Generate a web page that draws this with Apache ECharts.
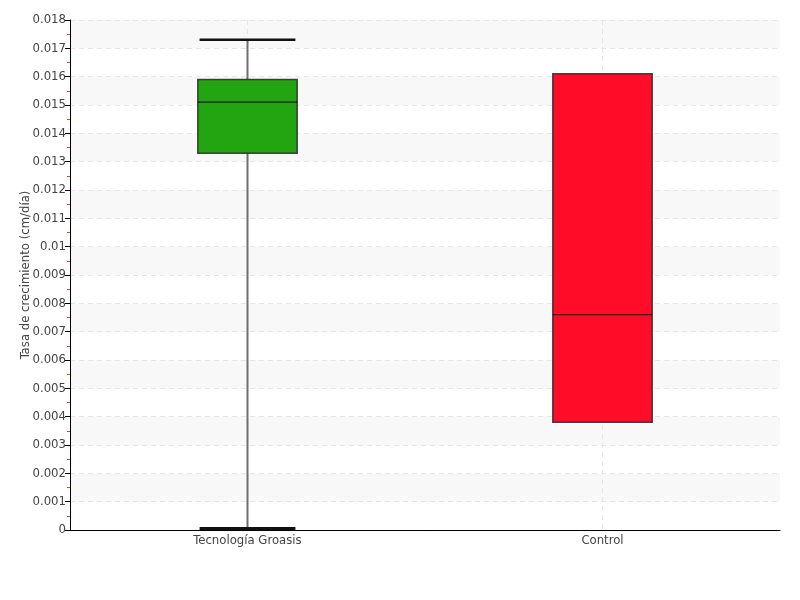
<!DOCTYPE html>
<html>
<head>
<meta charset="utf-8">
<script src="https://cdn.jsdelivr.net/npm/echarts@6/dist/echarts.min.js"></script>
<style>
  html, body { margin: 0; padding: 0; background: #fff; }
  #chart { width: 800px; height: 600px; }
</style>
</head>
<body>
<div id="chart"></div>
<script>
// categorias y valores del boxplot
const categories = ['Tecnología Groasis', 'Control']
const mins = [0.00005, 0.0038]
const q1s = [0.0133, 0.0038]
const medians = [0.0151, 0.0076]
const q3s = [0.0159, 0.0161]
const maxs = [0.0173, 0.0161]
const boxColors = ['#22a511', '#ff0c28']

const FONT = "'Liberation Sans Narrow', 'DejaVu Sans Condensed', sans-serif"

const boxData = categories.map((c, i) => [i, mins[i], q1s[i], medians[i], q3s[i], maxs[i]])

function renderBox(params, api) {
  const idx = api.value(0)
  const cs = params.coordSys
  const pMin = api.coord([idx, api.value(1)])
  const pQ1 = api.coord([idx, api.value(2)])
  const pMed = api.coord([idx, api.value(3)])
  const pQ3 = api.coord([idx, api.value(4)])
  const pMax = api.coord([idx, api.value(5)])
  const band = api.size([1, 0])[0]
  const half = band * 0.14
  const capHalf = band * 0.135
  const x = pMed[0]
  const children = [
    // linea guia vertical
    {
      type: 'line',
      shape: { x1: x, y1: cs.y, x2: x, y2: cs.y + cs.height },
      style: { stroke: '#e6e6e6', lineWidth: 1, lineDash: [5, 4] }
    }
  ]
  if (api.value(5) > api.value(4)) {
    children.push({
      type: 'line',
      shape: { x1: x, y1: pQ3[1], x2: x, y2: pMax[1] },
      style: { stroke: '#6e6e6e', lineWidth: 2 }
    })
    children.push({
      type: 'line',
      shape: { x1: x - capHalf, y1: pMax[1], x2: x + capHalf, y2: pMax[1] },
      style: { stroke: '#111', lineWidth: 2.5 }
    })
  }
  if (api.value(1) < api.value(2)) {
    children.push({
      type: 'line',
      shape: { x1: x, y1: pQ1[1], x2: x, y2: pMin[1] },
      style: { stroke: '#6e6e6e', lineWidth: 2 }
    })
    children.push({
      type: 'line',
      shape: { x1: x - capHalf, y1: pMin[1], x2: x + capHalf, y2: pMin[1] },
      style: { stroke: '#111', lineWidth: 3 }
    })
  }
  children.push({
    type: 'rect',
    shape: { x: x - half, y: pQ3[1], width: half * 2, height: pQ1[1] - pQ3[1] },
    style: { fill: boxColors[idx], stroke: 'rgba(40,40,40,0.85)', lineWidth: 1.5 }
  })
  children.push({
    type: 'line',
    shape: { x1: x - half, y1: pMed[1], x2: x + half, y2: pMed[1] },
    style: { stroke: '#1a1a1a', lineWidth: 1.2 }
  })
  return { type: 'group', children: children }
}

const chart = echarts.init(document.getElementById('chart'))
chart.setOption({
  animation: false,
  textStyle: { fontFamily: FONT },
  grid: { left: 70, right: 20, top: 20, bottom: 70 },
  xAxis: {
    type: 'category',
    data: categories,
    axisLine: { lineStyle: { color: '#000', width: 1 } },
    axisTick: { alignWithLabel: true, length: 4, lineStyle: { color: '#666' } },
    axisLabel: { color: '#444', fontSize: 13, fontFamily: FONT, margin: 4 },
    splitLine: { show: false }
  },
  yAxis: {
    type: 'value',
    min: 0,
    max: 0.018,
    interval: 0.001,
    name: 'Tasa de crecimiento (cm/día)',
    nameLocation: 'middle',
    nameGap: 38,
    nameMoveOverlap: false,
    nameTextStyle: { color: '#444', fontSize: 13, fontFamily: FONT },
    axisLine: { show: true, lineStyle: { color: '#000', width: 1 } },
    axisTick: { show: true, length: 5, lineStyle: { color: '#000' } },
    minorTick: { show: true, splitNumber: 2, length: 3, lineStyle: { color: '#ff3030' } },
    axisLabel: { color: '#444', fontSize: 13, fontFamily: FONT, margin: 4 },
    splitLine: { show: true, lineStyle: { color: '#e6e6e6', type: [5, 4] } },
    splitArea: { show: true, areaStyle: { color: ['#ffffff', '#f8f8f8'] } }
  },
  series: [
    {
      type: 'custom',
      renderItem: renderBox,
      encode: { x: 0, y: [1, 2, 3, 4, 5] },
      data: boxData
    }
  ]
})
</script>
</body>
</html>
